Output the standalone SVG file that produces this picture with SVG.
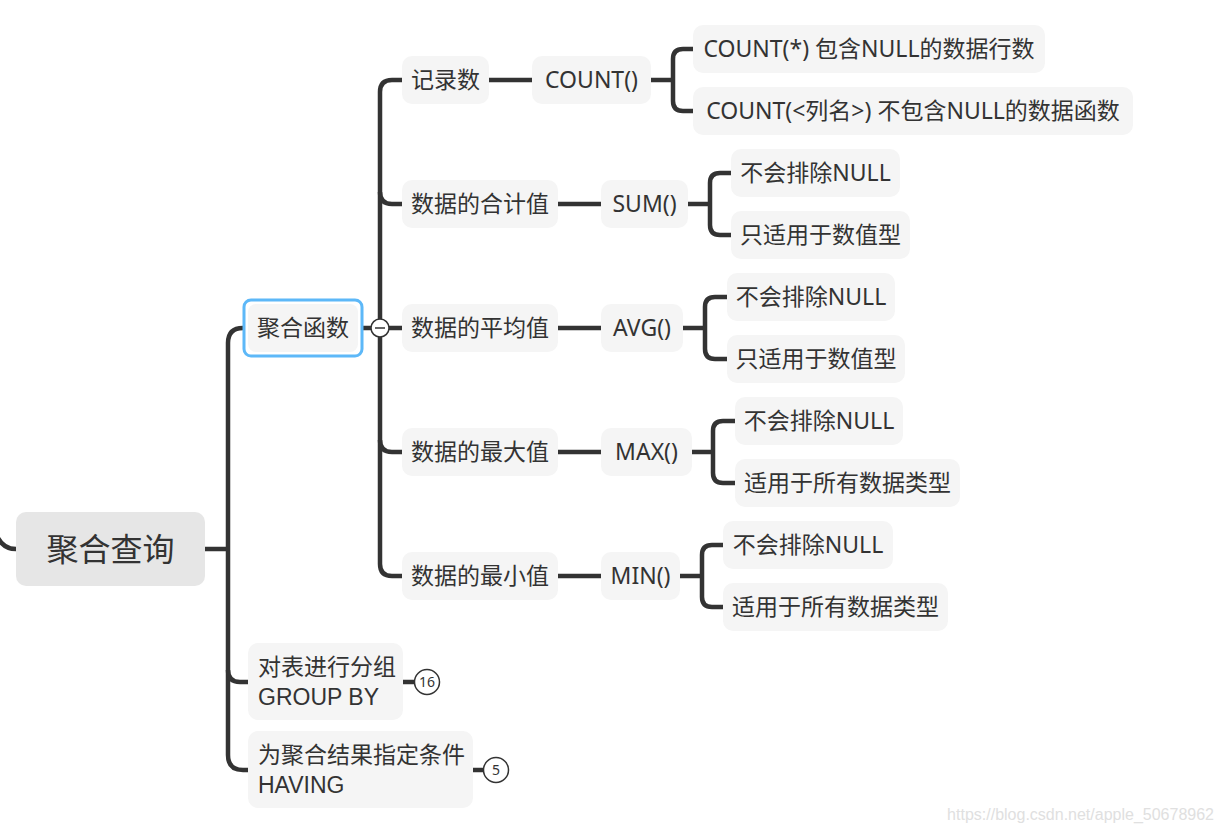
<svg xmlns="http://www.w3.org/2000/svg" width="1224" height="834" viewBox="0 0 1224 834">
<style>
.ln{fill:none;stroke:#333;stroke-width:4.5;stroke-linecap:butt}
.bx{fill:#f5f5f5}
.root{fill:#e6e6e6}
.t{font-family:"Noto Sans","Noto Sans CJK SC",sans-serif;font-size:23px;fill:#333;text-anchor:middle}
.tc{font-family:"Noto Sans CJK SC",sans-serif;font-size:23px;fill:#333}
.tlat{font-family:"Liberation Sans",Arial,sans-serif;font-size:23px;fill:#333}
.rt{font-family:"Noto Sans","Noto Sans CJK SC",sans-serif;font-size:32px;fill:#333;text-anchor:middle}
.bd{fill:#fff;stroke:#333;stroke-width:1.5}
.bt{font-family:"Noto Sans",sans-serif;font-size:14px;fill:#333;text-anchor:middle}
</style>
<rect width="1224" height="834" fill="#fff"/>
<g id="connectors">
<path class="ln" d="M-2,538 Q4,549 16,549"/>
<path class="ln" d="M205,549 H228"/>
<path class="ln" d="M243,328 Q228,328 228,343 V755 Q228,770 243,770 H248"/>
<path class="ln" d="M228,670 Q228,682 240,682 H248"/>
<path class="ln" d="M362,328 H402"/>
<path class="ln" d="M402,80 H392 Q380,80 380,92 V564 Q380,576 392,576 H402"/>
<path class="ln" d="M380,192 Q380,204 392,204 H402"/>
<path class="ln" d="M380,440 Q380,452 392,452 H402"/>
<path class="ln" d="M489,80 H532"/>
<path class="ln" d="M558,204 H601"/>
<path class="ln" d="M558,328 H601"/>
<path class="ln" d="M558,452 H601"/>
<path class="ln" d="M558,576 H601"/>
<path class="ln" d="M651,80 H673"/>
<path class="ln" d="M693,49 H683 Q673,49 673,59 V101 Q673,111 683,111 H693"/>
<path class="ln" d="M688,204 H710"/>
<path class="ln" d="M731,173 H720 Q710,173 710,183 V225 Q710,235 720,235 H731"/>
<path class="ln" d="M683,328 H705"/>
<path class="ln" d="M727,297 H715 Q705,297 705,307 V349 Q705,359 715,359 H727"/>
<path class="ln" d="M692,452 H713"/>
<path class="ln" d="M735,421 H723 Q713,421 713,431 V473 Q713,483 723,483 H735"/>
<path class="ln" d="M680,576 H702"/>
<path class="ln" d="M723,545 H712 Q702,545 702,555 V597 Q702,607 712,607 H723"/>
<path class="ln" d="M403,682 H415"/>
<path class="ln" d="M473,770 H484"/>
</g>
<g id="n-root">
<rect class="root" x="16" y="512" width="189" height="74" rx="10"/>
<text class="rt" x="110.5" y="561">聚合查询</text>
</g>
<g id="n-agg">
<rect class="bx" x="248" y="304" width="110" height="48" rx="8"/>
<rect x="244" y="300" width="118" height="56" rx="7" fill="none" stroke="#5db8f8" stroke-width="3"/>
<text class="t" x="303" y="336">聚合函数</text>
</g>
<g id="collapse">
<circle class="bd" cx="380" cy="328" r="9"/>
<path d="M375,328 H385" stroke="#333" stroke-width="1.5"/>
</g>
<g id="n-count-rec">
<rect class="bx" x="402" y="56" width="87" height="48" rx="10"/>
<text class="t" x="445.5" y="88">记录数</text>
</g>
<g id="n-sum-rec">
<rect class="bx" x="402" y="180" width="156" height="48" rx="10"/>
<text class="t" x="480" y="212">数据的合计值</text>
</g>
<g id="n-avg-rec">
<rect class="bx" x="402" y="304" width="156" height="48" rx="10"/>
<text class="t" x="480" y="336">数据的平均值</text>
</g>
<g id="n-max-rec">
<rect class="bx" x="402" y="428" width="156" height="48" rx="10"/>
<text class="t" x="480" y="460">数据的最大值</text>
</g>
<g id="n-min-rec">
<rect class="bx" x="402" y="552" width="156" height="48" rx="10"/>
<text class="t" x="480" y="584">数据的最小值</text>
</g>
<g id="n-count">
<rect class="bx" x="532" y="56" width="119" height="48" rx="10"/>
<text class="t" x="591.5" y="88">COUNT()</text>
</g>
<g id="n-sum">
<rect class="bx" x="601" y="180" width="87" height="48" rx="10"/>
<text class="t" x="644.5" y="212">SUM()</text>
</g>
<g id="n-avg">
<rect class="bx" x="601" y="304" width="82" height="48" rx="10"/>
<text class="t" x="642" y="336">AVG()</text>
</g>
<g id="n-max">
<rect class="bx" x="601" y="428" width="91" height="48" rx="10"/>
<text class="t" x="646.5" y="460">MAX()</text>
</g>
<g id="n-min">
<rect class="bx" x="601" y="552" width="79" height="48" rx="10"/>
<text class="t" x="640.5" y="584">MIN()</text>
</g>
<g id="n-count-star">
<rect class="bx" x="693" y="25" width="352" height="48" rx="10"/>
<text class="t" x="869" y="57">COUNT(*) 包含NULL的数据行数</text>
</g>
<g id="n-count-col">
<rect class="bx" x="693" y="87" width="440" height="48" rx="10"/>
<text class="t" x="913" y="119">COUNT(&lt;列名&gt;) 不包含NULL的数据函数</text>
</g>
<g id="n-sum-null">
<rect class="bx" x="731" y="149" width="169" height="48" rx="10"/>
<text class="t" x="815.5" y="181">不会排除NULL</text>
</g>
<g id="n-sum-num">
<rect class="bx" x="731" y="211" width="179" height="48" rx="10"/>
<text class="t" x="820.5" y="243">只适用于数值型</text>
</g>
<g id="n-avg-null">
<rect class="bx" x="727" y="273" width="168" height="48" rx="10"/>
<text class="t" x="811" y="305">不会排除NULL</text>
</g>
<g id="n-avg-num">
<rect class="bx" x="727" y="335" width="178" height="48" rx="10"/>
<text class="t" x="816" y="367">只适用于数值型</text>
</g>
<g id="n-max-null">
<rect class="bx" x="735" y="397" width="168" height="48" rx="10"/>
<text class="t" x="819" y="429">不会排除NULL</text>
</g>
<g id="n-max-all">
<rect class="bx" x="735" y="459" width="225" height="48" rx="10"/>
<text class="t" x="847.5" y="491">适用于所有数据类型</text>
</g>
<g id="n-min-null">
<rect class="bx" x="723" y="521" width="170" height="48" rx="10"/>
<text class="t" x="808" y="553">不会排除NULL</text>
</g>
<g id="n-min-all">
<rect class="bx" x="723" y="583" width="225" height="48" rx="10"/>
<text class="t" x="835.5" y="615">适用于所有数据类型</text>
</g>
<g id="n-groupby">
<rect class="bx" x="248" y="643" width="155" height="77" rx="10"/>
<text class="tc" x="258" y="675">对表进行分组</text>
<text class="tlat" x="258" y="705">GROUP BY</text>
</g>
<g id="badge-16">
<circle class="bd" cx="427" cy="682" r="12.5"/>
<text class="bt" x="427" y="687">16</text>
</g>
<g id="n-having">
<rect class="bx" x="248" y="731" width="225" height="77" rx="10"/>
<text class="tc" x="258" y="763">为聚合结果指定条件</text>
<text class="tlat" x="258" y="793">HAVING</text>
</g>
<g id="badge-5">
<circle class="bd" cx="496" cy="770" r="12.5"/>
<text class="bt" x="496" y="775">5</text>
</g>
<text x="1214" y="820" font-family="'Liberation Sans',Arial,sans-serif" font-size="16" fill="#e0e0e0" text-anchor="end">https://blog.csdn.net/apple_50678962</text>
</svg>
